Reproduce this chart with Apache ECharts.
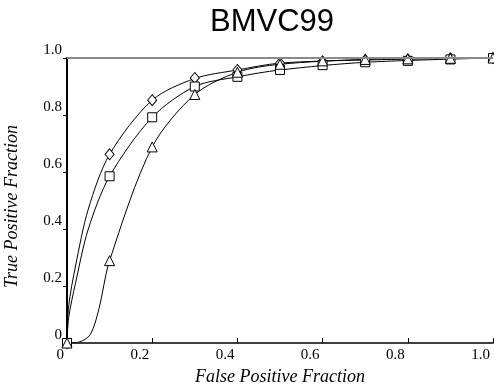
<!DOCTYPE html>
<html>
<head>
<meta charset="utf-8">
<script src="https://cdn.jsdelivr.net/npm/echarts@6/dist/echarts.min.js"></script>
<style>html,body{margin:0;padding:0;background:#fff}#c{width:494px;height:392px}</style>
</head>
<body>
<div id="c"></div>
<script>
// Marker positions (x = false positive fraction)
var markerX = [0, 0.1, 0.2, 0.3, 0.4, 0.5, 0.6, 0.7, 0.8, 0.9, 1.0];
var diamondY = [0, 0.662, 0.852, 0.93, 0.958, 0.982, 0.988, 0.993, 0.995, 0.999, 1.0];
var squareY = [0, 0.585, 0.792, 0.90, 0.934, 0.958, 0.975, 0.985, 0.99, 0.995, 1.0];
var triangleY = [0, 0.289, 0.688, 0.872, 0.95, 0.978, 0.99, 0.995, 0.997, 0.999, 1.0];

// Fitted curves
var diamondCurveX = [0, 0.004, 0.02, 0.05, 0.1, 0.2, 0.3, 0.4, 0.5, 0.7, 1.0];
var diamondCurveY = [0, 0.13, 0.27, 0.47, 0.662, 0.852, 0.928, 0.958, 0.982, 0.993, 1.0];
var squareCurveX = [0, 0.004, 0.02, 0.05, 0.1, 0.2, 0.3, 0.4, 0.5, 0.7, 1.0];
var squareCurveY = [0, 0.09, 0.21, 0.4, 0.585, 0.792, 0.90, 0.934, 0.958, 0.985, 1.0];
var triangleCurveX = [0, 0.03, 0.055, 0.075, 0.1, 0.2, 0.3, 0.4, 0.5, 0.7, 1.0];
var triangleCurveY = [0, 0.004, 0.03, 0.12, 0.289, 0.688, 0.872, 0.95, 0.978, 0.995, 1.0];

var title = 'BMVC99';
var xName = 'False Positive Fraction';
var yName = 'True Positive Fraction';

function pairs(xs, ys) { return xs.map(function (x, i) { return [x, ys[i]]; }); }
function fmt(v) { return v === 0 ? '0' : v.toFixed(1); }

var serif = '"Liberation Serif", "DejaVu Serif", serif';
var chart = echarts.init(document.getElementById('c'), null, { renderer: 'canvas' });

function curve(xs, ys) {
  return {
    type: 'line', data: pairs(xs, ys), smooth: 0.3,
    showSymbol: false, silent: true,
    lineStyle: { color: '#000', width: 1 }, z: 3
  };
}
function marks(ys, sym, size) {
  return {
    type: 'scatter', data: pairs(markerX, ys), symbol: sym, symbolSize: size,
    itemStyle: { color: '#fff', borderColor: '#000', borderWidth: 1, opacity: 1 }, z: 4
  };
}

var curveD = curve(diamondCurveX, diamondCurveY);
curveD.markLine = {
  silent: true, symbol: 'none', label: { show: false },
  lineStyle: { color: '#8a8a8a', width: 2, type: 'solid' },
  data: [{ yAxis: 1 }]
};

chart.setOption({
  animation: false,
  backgroundColor: '#fff',
  title: {
    text: title, left: 205, top: 2,
    textStyle: { fontFamily: '"Liberation Sans", Arial, sans-serif', fontSize: 31, fontWeight: 'normal', color: '#000' }
  },
  grid: { left: 67, right: 1, top: 58, bottom: 49, containLabel: false, outerBoundsMode: 'none' },
  xAxis: {
    type: 'value', min: 0, max: 1, interval: 0.2,
    name: xName, nameLocation: 'middle', nameGap: 25,
    nameTextStyle: { fontFamily: serif, fontStyle: 'italic', fontSize: 18, color: '#000' },
    axisLine: { show: true, lineStyle: { color: '#000', width: 1.5 } },
    axisTick: { show: true, inside: true, length: 5, lineStyle: { color: '#000' } },
    axisLabel: { formatter: fmt, align: 'right', padding: [0, 3, 0, 0], margin: 5, fontFamily: serif, fontSize: 15, color: '#000' },
    splitLine: { show: false }
  },
  yAxis: {
    type: 'value', min: 0, max: 1, interval: 0.2,
    name: yName, nameLocation: 'middle', nameGap: 46,
    nameTextStyle: { fontFamily: serif, fontStyle: 'italic', fontSize: 18, color: '#000', padding: [0, 12, 0, 0] },
    axisLine: { show: true, lineStyle: { color: '#000', width: 2 } },
    axisTick: { show: true, inside: false, length: 4, lineStyle: { color: '#000' } },
    axisLabel: { formatter: fmt, verticalAlign: 'bottom', margin: 5, fontFamily: serif, fontSize: 15, color: '#000' },
    splitLine: { show: false }
  },
  series: [
    curveD,
    curve(squareCurveX, squareCurveY),
    curve(triangleCurveX, triangleCurveY),
    marks(diamondY, 'diamond', [9, 11]),
    marks(squareY, 'rect', 9),
    marks(triangleY, 'triangle', [10, 10])
  ]
});
</script>
</body>
</html>
